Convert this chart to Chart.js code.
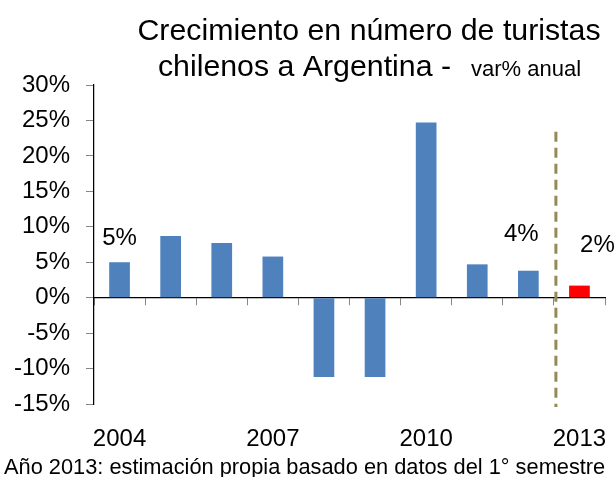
<!DOCTYPE html>
<html>
<head>
<meta charset="utf-8">
<script src="https://cdn.jsdelivr.net/npm/chart.js@4.4.1/dist/chart.umd.min.js"></script>
<style>
  html, body { margin: 0; padding: 0; background: #ffffff; }
  #wrap { width: 616px; height: 477px; }
</style>
</head>
<body>
<div id="wrap"><canvas id="c" width="616" height="477"></canvas></div>
<script>
// ---- data ----
const categories = ['2004', '2005', '2006', '2007', '2008', '2009', '2010', '2011', '2012', '2013'];
const growth = [5.0, 8.7, 7.7, 5.8, -11.2, -11.2, 24.7, 4.7, 3.8, 1.7];
const shownYears = ['2004', '2007', '2010', '2013'];
const labelYears = ['2004', '2012', '2013'];
const labelTexts = ['5%', '4%', '2%'];
const estimateYear = '2013';
const yMin = -15, yMax = 30, yStep = 5;
const titleLine1 = 'Crecimiento en número de turistas';
const titleLine2 = 'chilenos a Argentina -';
const titleSub = 'var% anual';
const footnote = 'Año 2013: estimación propia basado en datos del 1° semestre';

const FONT = "'Liberation Sans', Arial, sans-serif";
const BLUE = '#4F81BD';
const RED = '#FF0000';
const barColors = categories.map(c => c === estimateYear ? RED : BLUE);

// label placement offsets (pixels relative to bar centre / bar top)
const labelOffsets = { '2004': [0, -24], '2012': [-7, -36], '2013': [18, -40] };

const annotations = {
  id: 'annotations',
  afterDatasetsDraw(chart) {
    const ctx = chart.ctx;
    const xs = chart.scales.x, ys = chart.scales.y;
    ctx.save();
    // dashed separator between last actual year and estimate
    const i = categories.indexOf(estimateYear);
    const xd = (xs.getPixelForValue(i - 1) + xs.getPixelForValue(i)) / 2 + 2;
    ctx.strokeStyle = '#948A54';
    ctx.lineWidth = 3;
    ctx.setLineDash([10, 6]);
    ctx.beginPath();
    ctx.moveTo(xd, ys.getPixelForValue(23.4));
    ctx.lineTo(xd, chart.chartArea.bottom + 3);
    ctx.stroke();
    ctx.setLineDash([]);
    // value labels
    ctx.fillStyle = '#000';
    ctx.font = '24px ' + FONT;
    ctx.textAlign = 'center';
    ctx.textBaseline = 'middle';
    labelYears.forEach((yr, k) => {
      const idx = categories.indexOf(yr);
      const off = labelOffsets[yr];
      const px = xs.getPixelForValue(idx) + off[0];
      const py = ys.getPixelForValue(growth[idx]) + off[1];
      ctx.fillText(labelTexts[k], px, py);
    });
    // title
    ctx.textBaseline = 'alphabetic';
    ctx.font = '30.3px ' + FONT;
    ctx.fillText(titleLine1, 369, 40);
    ctx.textAlign = 'left';
    const w1 = ctx.measureText(titleLine2).width;
    ctx.font = '22px ' + FONT;
    const w2 = ctx.measureText(titleSub).width;
    const gap = 20;
    const start = 369.5 - (w1 + gap + w2) / 2;
    ctx.font = '30.3px ' + FONT;
    ctx.fillText(titleLine2, start, 76);
    ctx.font = '22px ' + FONT;
    ctx.fillText(titleSub, start + w1 + gap, 76);
    // footnote
    ctx.font = '21.8px ' + FONT;
    ctx.fillText(footnote, 4, 474);
    ctx.restore();
  }
};

new Chart(document.getElementById('c'), {
  type: 'bar',
  data: {
    labels: categories,
    datasets: [{
      data: growth,
      backgroundColor: barColors,
      borderWidth: 0,
      categoryPercentage: 1,
      barPercentage: 0.405
    }]
  },
  options: {
    responsive: false,
    animation: false,
    devicePixelRatio: 1,
    layout: { padding: { top: 85, right: 11, left: 0, bottom: 0 } },
    plugins: {
      legend: { display: false },
      title: { display: false },
      tooltip: { enabled: false }
    },
    scales: {
      y: {
        min: yMin,
        max: yMax,
        ticks: {
          stepSize: yStep,
          callback: v => v + '%',
          color: '#000',
          font: { family: FONT, size: 24 },
          padding: 16
        },
        grid: { drawOnChartArea: false, drawTicks: true, tickLength: 8, color: '#868686' },
        border: { color: '#000', width: 1.25 },
        afterFit(s) { s.width = 94; }
      },
      x: {
        position: 'bottom',
        offset: true,
        ticks: {
          autoSkip: false,
          maxRotation: 0,
          padding: 0,
          color: '#000',
          font: { family: FONT, size: 24 },
          callback(v, i) { return shownYears.includes(categories[i]) ? categories[i] : ''; }
        },
        grid: { display: true, drawOnChartArea: false, drawTicks: true, tickLength: 21, color: 'rgba(0,0,0,0)' },
        border: { display: false },
        afterFit(s) { s.height = 73; }
      },
      x0: {
        type: 'category',
        position: { y: 0 },
        offset: true,
        z: 1,
        ticks: { display: false },
        grid: { offset: true, drawOnChartArea: false, drawTicks: true, tickLength: 7, color: '#868686' },
        border: { color: '#000', width: 1.25 }
      }
    }
  },
  plugins: [annotations]
});
</script>
</body>
</html>
